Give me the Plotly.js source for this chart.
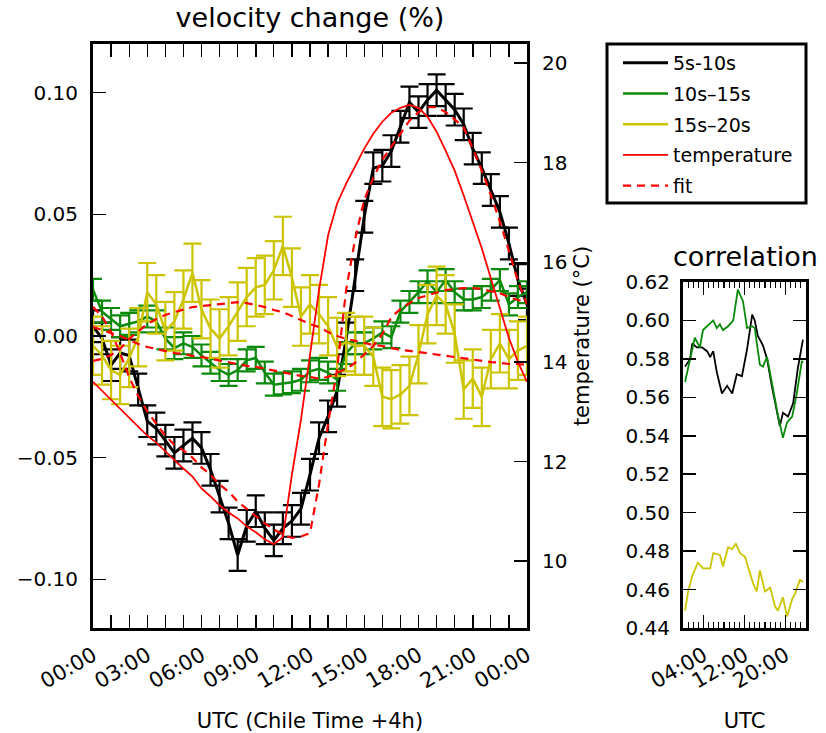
<!DOCTYPE html>
<html>
<head>
<meta charset="utf-8">
<script src="https://cdn.plot.ly/plotly-3.0.1.min.js"></script>
<style>html,body{margin:0;padding:0;background:#fff;}#chart{width:826px;height:733px;}</style>
</head>
<body>
<div id="chart"></div>
<script>
// ---------- data ----------
const hours = [0,0.5,1,1.5,2,2.5,3,3.5,4,4.5,5,5.5,6,6.5,7,7.5,8,8.5,9,9.5,10,10.5,11,11.5,12,12.5,13,13.5,14,14.5,15,15.5,16,16.5,17,17.5,18,18.5,19,19.5,20,20.5,21,21.5,22,22.5,23,23.5,24];

const vel5_10 = [0.004,-0.001,-0.012,-0.007,-0.008,-0.022,-0.035,-0.038,-0.043,-0.048,-0.045,-0.042,-0.046,-0.055,-0.066,-0.077,-0.090,-0.078,-0.072,-0.079,-0.084,-0.079,-0.076,-0.071,-0.057,-0.042,-0.033,-0.0225,-0.001,0.025,0.049,0.069,0.070,0.076,0.086,0.096,0.092,0.097,0.101,0.097,0.093,0.087,0.077,0.069,0.060,0.051,0.038,0.023,0.013];
const vel10_15 = [0.019,0.010,0.007,0.004,0.005,0.006,0.008,0.006,-0.001,-0.005,-0.003,-0.0045,-0.008,-0.011,-0.014,-0.016,-0.014,-0.010,-0.009,-0.015,-0.020,-0.0195,-0.019,-0.018,-0.0145,-0.0135,-0.015,-0.018,-0.007,-0.003,-0.003,-0.001,0.0015,-0.0005,0.010,0.014,0.018,0.0225,0.018,0.023,0.018,0.015,0.015,0.016,0.019,0.023,0.013,0.016,0.018];
const vel15_20 = [-0.004,-0.008,-0.014,-0.016,-0.009,-0.0005,0.018,0.013,0.002,0.006,0.015,0.026,0.011,0.003,-0.001,0.004,0.010,0.016,0.020,0.021,0.027,0.037,0.024,0.008,0.013,0.009,0.004,-0.0045,-0.0025,-0.004,-0.004,-0.0085,-0.025,-0.026,-0.024,-0.0205,-0.0075,0.009,0.0165,0.013,0.001,-0.022,-0.0175,-0.025,-0.0095,-0.003,-0.0095,-0.006,-0.004];

const err5_10 = 0.0065;
const err10_15 = 0.0045;
const err15_20 = 0.012;

const temperature = [13.60,13.42,13.24,13.06,12.88,12.70,12.52,12.38,12.20,12.02,11.86,11.70,11.46,11.30,11.12,10.98,10.86,10.70,10.58,10.44,10.34,10.48,11.74,12.84,14.14,15.44,16.54,17.18,17.58,17.94,18.28,18.58,18.82,19.00,19.10,19.16,19.10,18.92,18.62,18.24,17.84,17.34,16.80,16.28,15.68,15.10,14.48,14.00,13.60];

const fit5_10 = [0.012,0.008,0.0016,-0.007,-0.017,-0.0246,-0.031,-0.036,-0.041,-0.0447,-0.047,-0.050,-0.054,-0.057,-0.061,-0.064,-0.068,-0.071,-0.074,-0.077,-0.0795,-0.0816,-0.083,-0.0824,-0.081,-0.061,-0.036,-0.0135,0.019,0.040,0.056,0.065,0.0725,0.078,0.083,0.0885,0.092,0.094,0.094,0.092,0.089,0.0857,0.077,0.068,0.058,0.047,0.035,0.0225,0.013];
const fit10_15 = [0.0037,0.0025,0.0012,0.0,-0.0016,-0.0033,-0.0045,-0.0053,-0.0061,-0.007,-0.0074,-0.0082,-0.0086,-0.0094,-0.0102,-0.0107,-0.0115,-0.0123,-0.0127,-0.0135,-0.0143,-0.0148,-0.0156,-0.0164,-0.0168,-0.0176,-0.0168,-0.0152,-0.0135,-0.011,-0.0074,-0.0041,0.0008,0.0078,0.011,0.0135,0.0156,0.0168,0.018,0.0189,0.0193,0.0197,0.0197,0.0193,0.0184,0.0176,0.016,0.0148,0.014];
const fit15_20 = [-0.0102,-0.0094,-0.0078,-0.0053,-0.0012,0.002,0.0049,0.007,0.0086,0.0098,0.011,0.0119,0.0123,0.0127,0.0131,0.0135,0.0139,0.0135,0.0127,0.0119,0.0107,0.0098,0.0082,0.0066,0.0049,0.0037,0.0016,0.0,-0.0012,-0.002,-0.0029,-0.0037,-0.0041,-0.0049,-0.0057,-0.0061,-0.0066,-0.0074,-0.0078,-0.0082,-0.0086,-0.0094,-0.0098,-0.0102,-0.0107,-0.011,-0.0115,-0.0115,-0.0119];

const corrTimeBlack = [0.4,1.4,1.8,2.7,3.7,4.7,5.3,5.9,6.6,7.6,8.6,9.6,10.5,11.5,12.5,13.5,14.0,14.6,15.6,16.4,17.4,18.3,18.9,19.5,20.5,21.5,22.4,23.4];
const corr5_10 = [0.576,0.580,0.588,0.586,0.586,0.584,0.581,0.584,0.573,0.562,0.566,0.562,0.572,0.571,0.585,0.603,0.600,0.592,0.587,0.580,0.565,0.553,0.545,0.552,0.550,0.557,0.575,0.590];
const corrTimeGreen = [0.4,1.4,2.3,3.3,3.9,5.9,6.6,7.2,7.8,8.8,9.8,10.7,11.7,12.5,13.5,14.0,15.0,15.6,16.4,17.6,18.5,19.5,20.3,21.3,22.2,23.2,23.4];
const corr10_15 = [0.568,0.580,0.591,0.586,0.595,0.600,0.596,0.598,0.595,0.597,0.600,0.616,0.610,0.596,0.597,0.596,0.577,0.576,0.581,0.564,0.551,0.539,0.547,0.550,0.562,0.579,0.578];
const corrTimeYellow = [0.4,1.0,1.8,2.9,3.9,5.3,5.9,7.2,7.8,8.8,9.6,10.3,11.1,12.1,13.7,14.4,15.0,16.0,17.0,18.0,18.5,19.5,20.3,21.3,21.9,22.8,23.4];
const corr15_20 = [0.449,0.459,0.467,0.474,0.471,0.471,0.479,0.478,0.472,0.482,0.481,0.484,0.479,0.477,0.463,0.459,0.470,0.459,0.461,0.451,0.449,0.456,0.446,0.455,0.458,0.465,0.464];

const mainTickVals = [0,3,6,9,12,15,18,21,24];
const mainTickText = ['00:00','03:00','06:00','09:00','12:00','15:00','18:00','21:00','00:00'];
const velTickVals = [-0.10,-0.05,0,0.05,0.10];
const velTickText = ['\u22120.10','\u22120.05','0.00','0.05','0.10'];
const tempTickVals = [10,12,14,16,18,20];
const corrTickVals = [4,12,20];
const corrTickText = ['04:00','12:00','20:00'];
const corrYTickVals = [0.44,0.46,0.48,0.50,0.52,0.54,0.56,0.58,0.60,0.62];

// ---------- styles ----------
const BLACK = '#000000', GREEN = '#0a8a0a', YELLOW = '#cdc400', RED = '#ff0000';
const W = 826, H = 733;
const px = v => v / W;
const py = v => 1 - v / H;
const FONT = 'DejaVu Sans, Verdana, sans-serif';

function velTrace(y, err, color, name, group, lw) {
  return {
    x: hours, y: y, type: 'scatter', mode: 'lines', name: name,
    legendgroup: group, xaxis: 'x', yaxis: 'y',
    line: {color: color, width: lw},
    error_y: {type: 'constant', value: err, color: color, thickness: 2.2, width: 9, visible: true}
  };
}

const traces = [
  velTrace(vel5_10, err5_10, BLACK, '5s-10s', 'g1', 3),
  velTrace(vel10_15, err10_15, GREEN, '10s\u201315s', 'g2', 2.5),
  velTrace(vel15_20, err15_20, YELLOW, '15s\u201320s', 'g3', 2.5),
  {x: hours, y: fit10_15, type: 'scatter', mode: 'lines', name: 'fit', legendgroup: 'g5', showlegend: false,
   xaxis: 'x', yaxis: 'y', line: {color: RED, width: 2.2, dash: '8px,6px'}},
  {x: hours, y: fit15_20, type: 'scatter', mode: 'lines', name: 'fit', legendgroup: 'g5', showlegend: false,
   xaxis: 'x', yaxis: 'y', line: {color: RED, width: 2.2, dash: '8px,6px'}},
  {x: hours, y: temperature, type: 'scatter', mode: 'lines', name: 'temperature', legendgroup: 'g4',
   xaxis: 'x', yaxis: 'y2', line: {color: RED, width: 1.8}},
  {x: hours, y: fit5_10, type: 'scatter', mode: 'lines', name: 'fit', legendgroup: 'g5',
   xaxis: 'x', yaxis: 'y', line: {color: RED, width: 2.2, dash: '8px,6px'}},
  {x: corrTimeBlack, y: corr5_10, type: 'scatter', mode: 'lines', showlegend: false,
   xaxis: 'x2', yaxis: 'y3', line: {color: BLACK, width: 1.8}},
  {x: corrTimeGreen, y: corr10_15, type: 'scatter', mode: 'lines', showlegend: false,
   xaxis: 'x2', yaxis: 'y3', line: {color: GREEN, width: 1.8}},
  {x: corrTimeYellow, y: corr15_20, type: 'scatter', mode: 'lines', showlegend: false,
   xaxis: 'x2', yaxis: 'y3', line: {color: YELLOW, width: 1.8}}
];

const tickFont = {family: FONT, size: 20, color: '#000'};
const xTickFont = {family: FONT, size: 21, color: '#000'};
const axisBase = {
  showgrid: false, zeroline: false, showline: true, linecolor: '#000', linewidth: 3,
  ticks: 'inside', ticklen: 13, tickwidth: 1.5, tickcolor: '#000', tickfont: tickFont,
  fixedrange: true
};

const layout = {
  width: W, height: H,
  margin: {l: 0, r: 0, t: 0, b: 0},
  paper_bgcolor: '#fff', plot_bgcolor: '#fff',
  font: {family: FONT, color: '#000'},
  showlegend: true,
  title: {text: 'velocity change (%)', font: {family: FONT, size: 27, color: '#000'},
          x: px(310), xanchor: 'center', y: py(18), yanchor: 'middle'},
  xaxis: Object.assign({}, axisBase, {
    domain: [px(93), px(527)], anchor: 'y', range: [0, 24],
    tickvals: mainTickVals, ticktext: mainTickText, tickangle: -30, mirror: 'allticks',
    tickfont: xTickFont, ticklabelstandoff: 4,
    minor: {dtick: 1, ticks: 'inside', ticklen: 7, tickwidth: 1.2, tickcolor: '#000'},
    title: {text: 'UTC (Chile Time +4h)', font: {family: FONT, size: 21, color: '#000'}, standoff: 22}
  }),
  yaxis: Object.assign({}, axisBase, {
    domain: [py(628), py(44)], anchor: 'x', range: [-0.12, 0.12],
    tickvals: velTickVals, ticktext: velTickText, ticklabelstandoff: 8
  }),
  yaxis2: Object.assign({}, axisBase, {
    overlaying: 'y', side: 'right', anchor: 'x', range: [8.66, 20.38],
    tickvals: tempTickVals, ticklabelstandoff: 8,
    title: {text: 'temperature (\u00b0C)', font: {family: FONT, size: 21, color: '#000'}, standoff: 8}
  }),
  xaxis2: Object.assign({}, axisBase, {
    domain: [px(683), px(806)], anchor: 'y3', range: [0, 24],
    tickvals: corrTickVals, ticktext: corrTickText, tickangle: -30, mirror: 'allticks',
    tickfont: xTickFont, ticklabelstandoff: 4,
    minor: {dtick: 1, ticks: 'inside', ticklen: 6, tickwidth: 1.2, tickcolor: '#000'},
    title: {text: 'UTC', font: {family: FONT, size: 21, color: '#000'}, standoff: 22}
  }),
  yaxis3: Object.assign({}, axisBase, {
    domain: [py(628), py(282)], anchor: 'x2', range: [0.44, 0.62],
    tickvals: corrYTickVals, tickformat: '.2f', mirror: 'allticks', ticklabelstandoff: 6
  }),
  legend: {
    x: px(618), y: py(44), xanchor: 'left', yanchor: 'top',
    bgcolor: 'rgba(0,0,0,0)', borderwidth: 0,
    font: {family: FONT, size: 19, color: '#000'},
    traceorder: 'grouped', tracegroupgap: 3, itemwidth: 45
  },
  shapes: [
    {type: 'rect', xref: 'paper', yref: 'paper', x0: px(607), x1: px(806), y0: py(203), y1: py(44),
     line: {color: '#000', width: 3}, fillcolor: 'rgba(0,0,0,0)'}
  ],
  annotations: [
    {text: 'correlation', xref: 'paper', yref: 'paper', x: px(745), y: py(256),
     xanchor: 'center', yanchor: 'middle', showarrow: false,
     font: {family: FONT, size: 27, color: '#000'}}
  ]
};

Plotly.newPlot('chart', traces, layout, {staticPlot: true, displayModeBar: false});
</script>
</body>
</html>
